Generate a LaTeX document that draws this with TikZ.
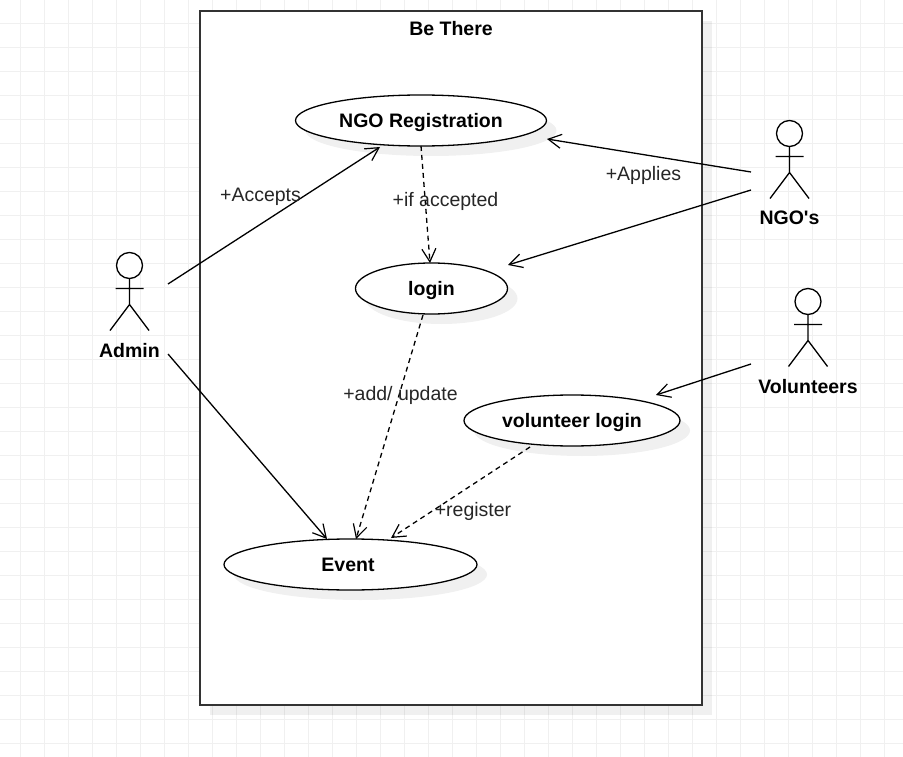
\documentclass[tikz,border=0pt]{standalone}
\usepackage{fontspec}
\setmainfont{Liberation Sans}
\usetikzlibrary{arrows.meta, shadows, shapes.geometric}

\tikzset{
  usecase/.style={ellipse, draw=black, fill=white, line width=1.3pt, inner sep=0pt,
    minimum height=51pt, font=\fontsize{19.5}{24}\selectfont\bfseries, text height=14pt, text depth=0pt,
    drop shadow={shadow xshift=10pt, shadow yshift=-10pt, fill=black, opacity=0.06}},
  assoc/.style={-{Straight Barb[length=13pt, width=14pt, line width=1.2pt]}, line width=1.3pt, black},
  dep/.style={assoc, dash pattern=on 5pt off 4pt},
  edgelabel/.style={font=\fontsize{19.5}{24}\selectfont, text=black!85, inner sep=0pt, text height=14pt, text depth=0pt},
  actorlabel/.style={font=\fontsize{19.5}{24}\selectfont\bfseries, inner sep=0pt, text height=14pt, text depth=0pt},
  stickman/.pic={
    \draw[line width=1.3pt, fill=white] (0,0) circle (13);
    \draw[line width=1.3pt] (0,13) -- (0,39) (-14,23) -- (14,23) (-19.5,65) -- (0,39) -- (19.5,65);
  }
}

\begin{document}
\begin{tikzpicture}[x=1pt, y=-1pt]

    % 1. page and grid
    \useasboundingbox (0,0) rectangle (903,757);
    \fill[white] (0,0) rectangle (903,757);
    \foreach \gx in {20.5,44.5,...,900.5} \draw[black!6, line width=0.8pt] (\gx,0) -- (\gx,757);
    \foreach \gy in {23.5,47.5,...,745.5} \draw[black!6, line width=0.8pt] (0,\gy) -- (903,\gy);

    % 2. system frame
    \node[draw=black!80, fill=white, line width=1.6pt, minimum width=502pt, minimum height=694pt,
        inner sep=0pt, drop shadow={shadow xshift=10pt, shadow yshift=-10pt, fill=black, opacity=0.06}]
        (frame) at (451,358) {};
    \node[actorlabel] (title) at (451,29) {Be There};

    % 3. use cases
    \node[usecase, minimum width=251pt] (registration) at (421,120.5) {NGO Registration};
    \node[usecase, minimum width=152pt] (login) at (431.5,288.5) {login};
    \node[usecase, minimum width=216pt] (vollogin) at (572,420.5) {volunteer login};
    \node[usecase, minimum width=253pt] (event) at (350.5,564.5) {\hspace*{-5pt}Event};

    % 4. actors
    \pic at (129.5,265.5) {stickman};
    \pic at (789.5,133.5) {stickman};
    \pic at (808,301.5) {stickman};
    \node[actorlabel] (admin) at (129.5,350) {Admin};
    \node[actorlabel] (ngo) at (789.5,218) {NGO\textquotesingle s};
    \node[actorlabel] (volunteers) at (808,386) {Volunteers};

    % 5. free ends of the connectors
    \coordinate (adminA) at (168,284);
    \coordinate (adminB) at (168,354);
    \coordinate (ngoA) at (751,172);
    \coordinate (ngoB) at (751,190);
    \coordinate (volA) at (751,364);
    \coordinate (regIn) at (380,147);
    \coordinate (regApply) at (547,139);
    \coordinate (regOut) at (421,146);
    \coordinate (loginIn) at (430,263);
    \coordinate (loginApply) at (508,265);
    \coordinate (loginOut) at (423,315);
    \coordinate (volIn) at (656,395);
    \coordinate (volOut) at (530,447);
    \coordinate (eventA) at (327,539);
    \coordinate (eventB) at (356,539);
    \coordinate (eventC) at (391,538);

    % 6. connectors
    \draw[assoc] (adminA) -- (regIn);
    \draw[assoc] (adminB) -- (eventA);
    \draw[assoc] (ngoA) -- (regApply);
    \draw[assoc] (ngoB) -- (loginApply);
    \draw[assoc] (volA) -- (volIn);
    \draw[dep] (regOut) -- (loginIn);
    \draw[dep] (loginOut) -- (eventB);
    \draw[dep] (volOut) -- (eventC);

    % 7. connector labels
    \node[edgelabel] (accepts) at (260.5,194) {+Accepts};
    \node[edgelabel] (applies) at (643.5,174) {+Applies};
    \node[edgelabel] (ifaccepted) at (445.5,200) {+if accepted};
    \node[edgelabel] (addupdate) at (400.5,393) {+add/ update};
    \node[edgelabel] (register) at (473,509) {+register};

\end{tikzpicture}
\end{document}
